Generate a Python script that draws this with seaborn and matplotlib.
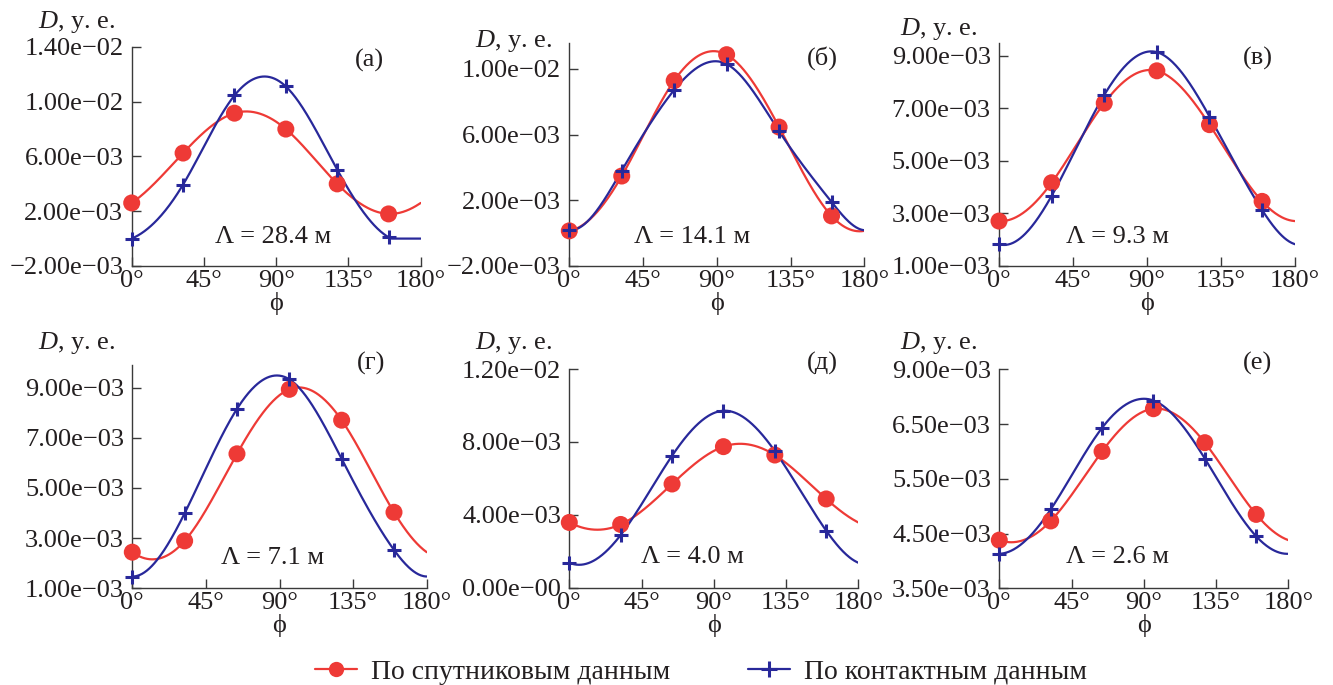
import numpy as np
import pandas as pd
import matplotlib
matplotlib.use("Agg")
import matplotlib.pyplot as plt
from matplotlib.lines import Line2D
import seaborn as sns

# Angles of the measurement points, degrees
phi = [0, 32, 64, 96, 128, 160]

# Satellite data (red circles) and contact data (blue crosses), per panel
sat_a = [2.60e-3, 6.24e-3, 9.15e-3, 7.99e-3, 3.99e-3, 1.80e-3]
con_a = [0.00e-3, 3.94e-3, 10.44e-3, 11.10e-3, 5.03e-3, 0.10e-3]
sat_b = [0.14e-3, 3.48e-3, 9.29e-3, 10.87e-3, 6.46e-3, 1.05e-3]
con_b = [0.18e-3, 3.81e-3, 8.72e-3, 10.30e-3, 6.21e-3, 1.90e-3]
sat_v = [2.71e-3, 4.17e-3, 7.20e-3, 8.43e-3, 6.38e-3, 3.46e-3]
con_v = [1.83e-3, 3.67e-3, 7.51e-3, 9.14e-3, 6.69e-3, 3.13e-3]
sat_g = [2.44e-3, 2.89e-3, 6.36e-3, 8.93e-3, 7.70e-3, 4.03e-3]
con_g = [1.47e-3, 3.99e-3, 8.15e-3, 9.33e-3, 6.16e-3, 2.53e-3]
sat_d = [3.58e-3, 3.47e-3, 5.69e-3, 7.74e-3, 7.28e-3, 4.87e-3]
con_d = [1.37e-3, 2.89e-3, 7.24e-3, 9.71e-3, 7.50e-3, 3.13e-3]
sat_e = [4.38e-3, 4.73e-3, 6.00e-3, 6.78e-3, 6.16e-3, 4.85e-3]
con_e = [4.13e-3, 4.94e-3, 6.43e-3, 6.93e-3, 5.87e-3, 4.45e-3]

panel_letters = ["(а)", "(б)", "(в)", "(г)", "(д)", "(е)"]
wavelengths = ["28.4", "14.1", "9.3", "7.1", "4.0", "2.6"]

xtick_vals = [0, 45, 90, 135, 180]
xtick_labels = ["0°", "45°", "90°", "135°", "180°"]

ytick_vals = [
    [-2e-3, 2e-3, 6e-3, 1e-2, 1.4e-2],
    [-2e-3, 2e-3, 6e-3, 1e-2],
    [1e-3, 3e-3, 5e-3, 7e-3, 9e-3],
    [1e-3, 3e-3, 5e-3, 7e-3, 9e-3],
    [0, 4e-3, 8e-3, 1.2e-2],
    [3.5e-3, 4.5e-3, 5.5e-3, 6.5e-3, 7.5e-3],
]
ytick_labels = [
    ["−2.00e−03", "2.00e−03", "6.00e−03", "1.00e−02", "1.40e−02"],
    ["−2.00e−03", "2.00e−03", "6.00e−03", "1.00e−02"],
    ["1.00e−03", "3.00e−03", "5.00e−03", "7.00e−03", "9.00e−03"],
    ["1.00e−03", "3.00e−03", "5.00e−03", "7.00e−03", "9.00e−03"],
    ["0.00e−00", "4.00e−03", "8.00e−03", "1.20e−02"],
    ["3.50e−03", "4.50e−03", "5.50e−03", "6.50e−03", "9.00e−03"],
]
ylims = [(-2e-3, 1.4e-2), (-2e-3, 1.16e-2), (1e-3, 9.5e-3),
         (1e-3, 9.9e-3), (0, 1.2e-2), (3.5e-3, 7.5e-3)]

sat_all = [sat_a, sat_b, sat_v, sat_g, sat_d, sat_e]
con_all = [con_a, con_b, con_v, con_g, con_d, con_e]

RED = "#ee3a36"
BLUE = "#28289a"
INK = "#231f20"

W, H = 1333, 685

# axes boxes in pixels: left, top, right, bottom
boxes = [(131.7, 46.7, 420.7, 266), (569.3, 42.7, 864.3, 266), (999, 42.7, 1295, 266),
         (132.3, 365, 426.7, 588.3), (569.3, 369, 858.3, 587.7), (999.3, 369.3, 1288.3, 588.3)]
ylabel_pos = [(115, 28), (552, 47), (977, 35), (115, 349), (552, 349), (977, 349)]
letter_pos = [(369, 60), (822, 58), (1258, 58), (371, 363), (822, 363), (1258, 363)]
lam_pos = [(273, 237), (692, 237), (1117, 237), (273, 558), (692, 557), (1117, 557)]


def periodic_spline(xk, yk, period, xs):
    # smooth periodic cubic spline through the measured points (phi is 180-periodic)
    xk = np.asarray(xk, float)
    yk = np.asarray(yk, float)
    n = len(xk)
    h = np.diff(np.append(xk, xk[0] + period))
    A = np.zeros((n, n))
    r = np.zeros(n)
    for i in range(n):
        im, ip = (i - 1) % n, (i + 1) % n
        A[i, im] += h[im]
        A[i, i] += 2 * (h[im] + h[i])
        A[i, ip] += h[i]
        r[i] = 6 * ((yk[ip] - yk[i]) / h[i] - (yk[i] - yk[im]) / h[im])
    M = np.linalg.solve(A, r)
    out = np.empty_like(xs)
    for j, x in enumerate(xs):
        xx = (x - xk[0]) % period + xk[0]
        i = np.searchsorted(xk, xx, side="right") - 1
        ip = (i + 1) % n
        x0 = xk[i]
        x1 = x0 + h[i]
        t0, t1 = x1 - xx, xx - x0
        out[j] = (M[i] * t0 ** 3 + M[ip] * t1 ** 3) / (6 * h[i]) \
            + (yk[i] / h[i] - M[i] * h[i] / 6) * t0 \
            + (yk[ip] / h[i] - M[ip] * h[i] / 6) * t1
    return out


sns.set_theme(style="ticks")
plt.rcParams["font.family"] = ["Liberation Serif", "DejaVu Serif"]
plt.rcParams["mathtext.fontset"] = "custom"
plt.rcParams["mathtext.it"] = "Liberation Serif:italic"
plt.rcParams["mathtext.rm"] = "Liberation Serif"

FS = 19
fig = plt.figure(figsize=(W / 100, H / 100), dpi=100)
xs = np.linspace(0, 180, 361)

for k in range(6):
    l, t, r, b = boxes[k]
    ax = fig.add_axes([l / W, 1 - b / H, (r - l) / W, (b - t) / H])

    for vals, col, mk in [(sat_all[k], RED, "o"), (con_all[k], BLUE, "+")]:
        curve = pd.DataFrame({"phi": xs, "D": np.clip(periodic_spline(phi, vals, 180, xs), 0, None)})
        sns.lineplot(data=curve, x="phi", y="D", ax=ax, color=col, lw=1.6)
        pts = pd.DataFrame({"phi": phi, "D": vals})
        if mk == "o":
            sns.scatterplot(data=pts, x="phi", y="D", ax=ax, color=col, s=150,
                            edgecolor="none", zorder=4, clip_on=False)
        else:
            sns.scatterplot(data=pts, x="phi", y="D", ax=ax, color=col, marker="+",
                            s=110, linewidth=2.2, zorder=5, clip_on=False)

    ax.set_xlim(0, 180)
    ax.set_ylim(*ylims[k])
    ax.set_xticks(xtick_vals)
    ax.set_xticklabels(xtick_labels)
    ax.set_yticks(ytick_vals[k])
    ax.set_yticklabels(ytick_labels[k])
    ax.tick_params(direction="in", length=6.5, width=1.0, color="#3a3a3a",
                   labelsize=FS, labelcolor=INK)
    ax.tick_params(axis="y", pad=6)
    ax.tick_params(axis="x", pad=3)
    sns.despine(ax=ax)
    for s in ["left", "bottom"]:
        ax.spines[s].set_color("#3a3a3a")
        ax.spines[s].set_linewidth(1.0)
    ax.set_xlabel("ϕ", fontsize=FS, labelpad=0, color=INK)
    ax.set_ylabel("")

    xl, yl = ylabel_pos[k]
    fig.text(xl / W, 1 - yl / H, "$D$, у. е.", ha="right", va="baseline",
             fontsize=FS, color=INK)
    xl, yl = letter_pos[k]
    fig.text(xl / W, 1 - yl / H, panel_letters[k], ha="center", va="center",
             fontsize=FS, color=INK)
    xl, yl = lam_pos[k]
    fig.text(xl / W, 1 - yl / H, f"Λ = {wavelengths[k]} м", ha="center", va="center",
             fontsize=FS, color=INK)

handles = [Line2D([0], [0], color=RED, lw=1.6, marker="o", markersize=11, markeredgewidth=0),
           Line2D([0], [0], color=BLUE, lw=1.6, marker="+", markersize=11, markeredgewidth=2.2)]
fig.legend(handles, ["По спутниковым данным", "По контактным данным"],
           loc="center", bbox_to_anchor=(701 / W, 1 - 672 / H), ncol=2, frameon=False,
           fontsize=20, handlelength=1.5, handletextpad=0.5, columnspacing=2.8,
           labelcolor=INK)

fig.savefig("out.png", dpi=100)
